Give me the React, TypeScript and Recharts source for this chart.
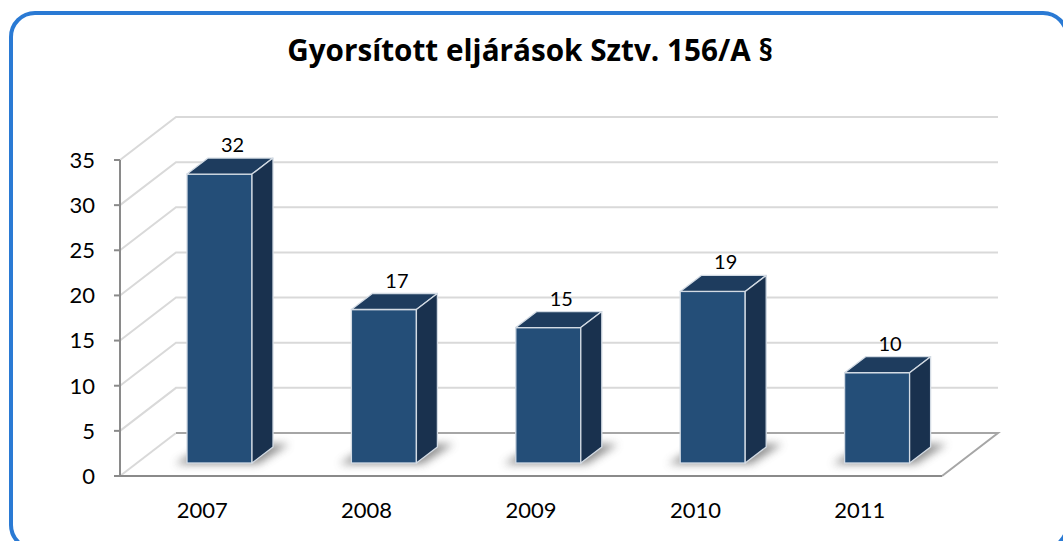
import React from 'react';
import { BarChart, Bar, XAxis, YAxis, CartesianGrid, LabelList } from 'recharts';

const categories = ['2007', '2008', '2009', '2010', '2011'];
const values = [32, 17, 15, 19, 10];
const yTicks = [0, 5, 10, 15, 20, 25, 30, 35];
const edgeTicks = [0, 1, 2, 3, 4, 5];
const title = 'Gyorsított eljárások Sztv. 156/A §';

const data = categories.map((c, i) => ({ year: c, value: values[i] }));

// 3D style offsets
const DX = 56, DY = -43; // wall depth
const BX = 17, BY = -13; // bar offset into depth
const PX = 21, PY = -16; // bar depth

const FONT = 'Lato, "Open Sans", sans-serif';

const gridLine = (p: any) => {
  const { x1, y1, x2, index } = p;
  const bottom = Number(p.y) + Number(p.height);
  const isFloor = Number.isFinite(bottom) ? Math.abs(y1 - bottom) < 1 : index === 0;
  if (isFloor) {
    return (
      <g key={`gl-${index}`}>
        <path d={`M${x1},${y1} L${x1 + DX},${y1 + DY}`} stroke="#d9d9d9" strokeWidth={2} fill="none" />
        <path d={`M${x1 + DX},${y1 + DY} L${x2 + DX},${y1 + DY} L${x2},${y1}`} stroke="#a6a6a6" strokeWidth={2} fill="none" />
      </g>
    );
  }
  return (
    <path
      key={`gl-${index}`}
      d={`M${x1},${y1} L${x1 + DX},${y1 + DY} L${x2 + DX},${y1 + DY}`}
      stroke="#d9d9d9"
      strokeWidth={2}
      fill="none"
    />
  );
};

const Bar3D = (p: any) => {
  const { x, y, width: w, height: h, index } = p;
  const fx = x + BX;
  const fy = y + BY;
  const fb = y + h + BY;
  const id = `shadow-${index}`;
  const edge = '#d3dbe4';
  return (
    <g>
      <defs>
        <filter id={id} x="-50%" y="-100%" width="200%" height="300%">
          <feGaussianBlur stdDeviation={4} />
        </filter>
      </defs>
      <polygon
        points={`${fx - 12},${fb + 1} ${fx + w + 6},${fb + 1} ${fx + w + PX + 16},${fb + PY - 3} ${fx + PX},${fb + PY - 3}`}
        fill="#6a6a6a"
        opacity={0.75}
        filter={`url(#${id})`}
      />
      <rect x={fx} y={fy} width={w} height={h} fill="#244e78" stroke={edge} strokeWidth={1.3} />
      <polygon
        points={`${fx},${fy} ${fx + PX},${fy + PY} ${fx + w + PX},${fy + PY} ${fx + w},${fy}`}
        fill="#1e3c5e"
        stroke={edge}
        strokeWidth={1.3}
        strokeLinejoin="round"
      />
      <polygon
        points={`${fx + w},${fy} ${fx + w + PX},${fy + PY} ${fx + w + PX},${fb + PY} ${fx + w},${fb}`}
        fill="#19314e"
        stroke={edge}
        strokeWidth={1.3}
        strokeLinejoin="round"
      />
    </g>
  );
};

const renderLabel = (p: any) => {
  const x = Number(p.x), y = Number(p.y), width = Number(p.width);
  return (
    <text
      x={x + width / 2 + BX + 13}
      y={y + BY + PY - 14}
      textAnchor="middle"
      dominantBaseline="central"
      fontFamily={FONT}
      fontSize={20}
      fill="#000"
    >
      {p.value}
    </text>
  );
};

export default function App() {
  return (
    <div style={{ position: 'fixed', left: 0, top: 0, width: 1063, height: 541, overflow: 'hidden', background: '#fff' }}>
      <BarChart
        width={1063}
        height={541}
        data={data}
        margin={{ top: 160, right: 121, bottom: 35, left: 60 }}
      >
        <XAxis
          xAxisId={0}
          type="number"
          domain={[0, 5]}
          ticks={edgeTicks}
          height={1}
          tick={false}
          tickSize={7}
          interval={0}
          allowDataOverflow
          axisLine={{ stroke: '#8a8a8a', strokeWidth: 2 }}
          tickLine={{ stroke: '#8a8a8a', strokeWidth: 2 }}
        />
        <XAxis
          xAxisId="cat"
          dataKey="year"
          height={29}
          axisLine={false}
          tickLine={false}
          tickSize={0}
          tickMargin={25}
          interval={0}
          tick={{ fill: '#000', fontSize: 22, fontFamily: FONT }}
        />
        <YAxis
          domain={[0, 35]}
          ticks={yTicks}
          width={60}
          interval={0}
          tickSize={6}
          tickMargin={19}
          axisLine={{ stroke: '#8a8a8a', strokeWidth: 2 }}
          tickLine={{ stroke: '#8a8a8a', strokeWidth: 2 }}
          tick={{ fill: '#000', fontSize: 22, fontFamily: FONT }}
        />
        <CartesianGrid xAxisId={0} vertical={false} horizontal={gridLine} />
        <Bar xAxisId="cat" dataKey="value" barSize={65} isAnimationActive={false} shape={Bar3D}>
          <LabelList dataKey="value" content={renderLabel} />
        </Bar>
      </BarChart>
      <div
        style={{
          position: 'absolute',
          left: 9,
          top: 11,
          width: 1060,
          height: 540,
          border: '4px solid #2a7ad4',
          borderRadius: 26,
          boxSizing: 'border-box',
          pointerEvents: 'none',
        }}
      />
      <div
        style={{
          position: 'absolute',
          left: 0,
          top: 35,
          width: 1060,
          textAlign: 'center',
          fontFamily: '"Open Sans", Lato, sans-serif',
          fontWeight: 'bold',
          fontSize: 29.7,
          lineHeight: '30px',
          color: '#000',
        }}
      >
        {title}
      </div>
    </div>
  );
}
